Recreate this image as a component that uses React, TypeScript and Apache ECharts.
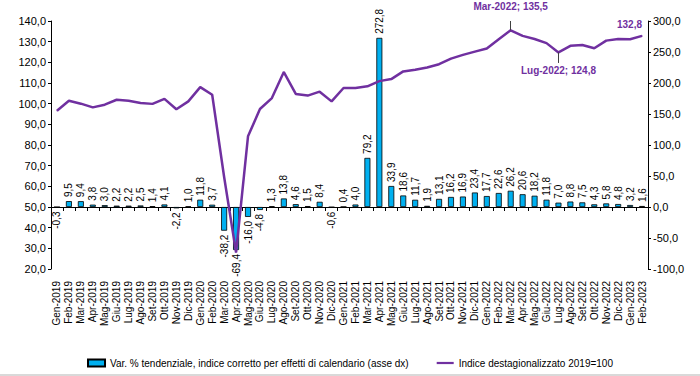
import React, { useEffect, useRef } from "react";
import * as echarts from "echarts";

const months = [
  "Gen-2019", "Feb-2019", "Mar-2019", "Apr-2019", "Mag-2019", "Giu-2019", "Lug-2019", "Ago-2019", "Set-2019", "Ott-2019", "Nov-2019", "Dic-2019",
  "Gen-2020", "Feb-2020", "Mar-2020", "Apr-2020", "Mag-2020", "Giu-2020", "Lug-2020", "Ago-2020", "Set-2020", "Ott-2020", "Nov-2020", "Dic-2020",
  "Gen-2021", "Feb-2021", "Mar-2021", "Apr-2021", "Mag-2021", "Giu-2021", "Lug-2021", "Ago-2021", "Set-2021", "Ott-2021", "Nov-2021", "Dic-2021",
  "Gen-2022", "Feb-2022", "Mar-2022", "Apr-2022", "Mag-2022", "Giu-2022", "Lug-2022", "Ago-2022", "Set-2022", "Ott-2022", "Nov-2022", "Dic-2022",
  "Gen-2023", "Feb-2023",
];

// Var. % tendenziale (right axis)
const varTendenziale = [
  -0.3, 9.5, 9.4, 3.8, 3.0, 2.2, 2.2, 2.5, 1.4, 4.1, -2.2, 1.0,
  11.8, 3.7, -38.2, -69.4, -16.0, -4.8, 1.3, 13.8, 4.6, 1.5, 8.4, -0.6,
  0.4, 4.0, 79.2, 272.8, 33.9, 18.6, 11.7, 1.9, 13.1, 16.2, 16.9, 23.4,
  17.7, 22.6, 26.2, 20.6, 18.2, 11.8, 7.0, 8.8, 7.5, 4.3, 5.8, 4.8,
  3.2, 1.6,
];

// Indice destagionalizzato 2019=100 (left axis)
const indiceDest = [
  96.6, 101.4, 100.0, 98.2, 99.5, 101.9, 101.4, 100.3, 99.9, 102.3, 97.3, 101.1,
  108.0, 104.3, 64.5, 28.0, 84.2, 97.4, 102.7, 115.3, 104.7, 103.9, 105.8, 101.1,
  107.6, 107.6, 108.4, 110.9, 111.9, 115.6, 116.4, 117.5, 119.1, 121.8, 123.6, 125.2,
  126.7, 131.2, 135.5, 132.8, 131.3, 129.3, 124.8, 128.0, 128.4, 126.8, 130.5, 131.3,
  131.2, 132.8,
];

const leftTicks = { min: 20, max: 140, interval: 10 };
const rightTicks = { min: -100, max: 300, interval: 50 };

const barName = "Var. % tendenziale, indice corretto per effetti di calendario (asse dx)";
const lineName = "Indice destagionalizzato 2019=100";

const fmt = (v: number) => v.toFixed(1).replace(".", ",");

const PURPLE = "#7030A0";
const FONT = "'Liberation Sans', Arial, sans-serif";

export default function App() {
  const ref = useRef<HTMLDivElement>(null);

  useEffect(() => {
    document.body.style.margin = "0";
    if (!ref.current) return;
    const chart = echarts.init(ref.current, null, { renderer: "svg" });

    const iMar = months.indexOf("Mar-2022");
    const iLug = months.indexOf("Lug-2022");
    const iLast = months.length - 1;

    const lineData = indiceDest.map((v, i) => {
      if (i === iMar) {
        return {
          value: v,
          label: {
            show: true, position: "top", distance: 18,
            formatter: `${months[i]}; ${fmt(v)}`,
          },
        };
      }
      if (i === iLug) {
        return {
          value: v,
          label: {
            show: true, position: "bottom", distance: 13,
            formatter: `${months[i]}; ${fmt(v)}`,
          },
        };
      }
      if (i === iLast) {
        return {
          value: v,
          label: {
            show: true, position: "top", distance: 6, align: "right", offset: [2, 0],
            formatter: fmt(v),
          },
        };
      }
      return v;
    });

    const barData = varTendenziale.map((v) => ({
      value: v,
      label: v >= 0
        ? { position: "top", align: "left" }
        : { position: "bottom", align: "right" },
    }));

    chart.setOption({
      animation: false,
      textStyle: { fontFamily: FONT },
      grid: { left: 51, right: 52, top: 21, bottom: 107, containLabel: false },
      legend: {
        top: 353,
        left: "center",
        itemGap: 28,
        itemWidth: 17,
        itemHeight: 7,
        textStyle: { fontSize: 10, color: "#000", fontFamily: FONT },
        data: [
          { name: barName, icon: "rect" },
          { name: lineName, icon: "path://M0,0H20V2.6H0Z" },
        ],
      },
      xAxis: [
        {
          type: "category",
          data: months,
          position: "bottom",
          axisLine: { show: false, onZero: false },
          axisTick: { show: false },
          axisLabel: {
            interval: 0, rotate: 90, fontSize: 10, color: "#000", margin: 12,
            fontFamily: FONT,
          },
        },
        {
          type: "category",
          data: months,
          position: "bottom",
          axisLine: { show: true, onZero: true, onZeroAxisIndex: 1, lineStyle: { color: "#000", width: 1 } },
          axisTick: { show: true, inside: false, length: 4, interval: 0, lineStyle: { color: "#000" } },
          axisLabel: { show: false },
        },
      ],
      yAxis: [
        {
          type: "value",
          position: "left",
          min: leftTicks.min, max: leftTicks.max, interval: leftTicks.interval,
          axisLine: { show: true, lineStyle: { color: "#000" } },
          axisTick: { show: true, length: 3, lineStyle: { color: "#000" } },
          splitLine: { show: false },
          axisLabel: { fontSize: 11, color: "#000", margin: 5, formatter: (v: number) => fmt(v), fontFamily: FONT },
        },
        {
          type: "value",
          position: "right",
          min: rightTicks.min, max: rightTicks.max, interval: rightTicks.interval,
          axisLine: { show: true, lineStyle: { color: "#000" } },
          axisTick: { show: true, length: 3, lineStyle: { color: "#000" } },
          splitLine: { show: false },
          axisLabel: { fontSize: 11, color: "#000", margin: 5, formatter: (v: number) => fmt(v), fontFamily: FONT },
        },
      ],
      series: [
        {
          name: barName,
          type: "bar",
          xAxisIndex: 0,
          yAxisIndex: 1,
          barWidth: 6,
          data: barData,
          itemStyle: { color: "#00B0F0", borderColor: "#000", borderWidth: 0.8 },
          label: {
            show: true,
            rotate: 90,
            verticalAlign: "middle",
            distance: 4,
            fontSize: 10,
            color: "#000",
            fontFamily: FONT,
            formatter: (p: any) => fmt(p.value),
          },
        },
        {
          name: lineName,
          type: "line",
          xAxisIndex: 0,
          yAxisIndex: 0,
          data: lineData,
          symbol: "circle",
          symbolSize: 1,
          showSymbol: true,
          clip: false,
          lineStyle: { color: PURPLE, width: 2.5 },
          itemStyle: { color: PURPLE },
          label: {
            color: PURPLE, fontSize: 10, fontWeight: "bold", fontFamily: FONT,
          },
          labelLayout: { hideOverlap: false },
          markLine: {
            silent: true,
            symbol: "none",
            label: { show: false },
            lineStyle: { color: "#404040", width: 1, type: "solid" },
            data: [
              [
                { xAxis: months[iMar], yAxis: indiceDest[iMar] },
                { xAxis: months[iMar], yAxis: 140 },
              ],
              [
                { xAxis: months[iLug], yAxis: indiceDest[iLug] },
                { xAxis: months[iLug], yAxis: 119.7 },
              ],
            ],
          },
          z: 3,
        },
      ],
      graphic: [
        {
          type: "rect",
          left: 0,
          top: 374,
          shape: { width: 700, height: 2 },
          style: { fill: "#D9D9D9" },
          silent: true,
        },
      ],
    });

    return () => chart.dispose();
  }, []);

  return <div ref={ref} style={{ width: 700, height: 376 }} />;
}
